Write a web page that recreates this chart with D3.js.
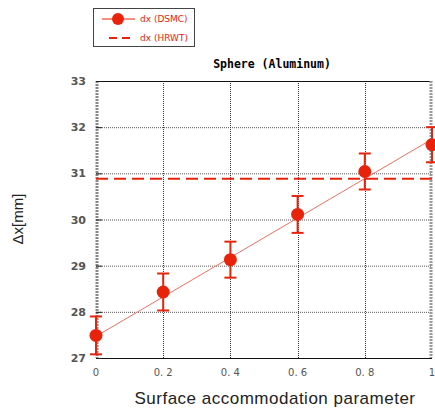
<!DOCTYPE html>
<html>
<head>
<meta charset="utf-8">
<script src="https://cdn.jsdelivr.net/npm/d3@7"></script>
<style>
  body { margin: 0; background: #fff; }
  svg { display: block; }
</style>
</head>
<body>
<div id="chart"></div>
<script>
// valeurs
const xValues = [0, 0.2, 0.4, 0.6, 0.8, 1.0];
const dsmcValues = [27.49, 28.43, 29.13, 30.11, 31.04, 31.62];
const dsmcErrors = [0.41, 0.4, 0.39, 0.4, 0.39, 0.38];
const hrwtValue = 30.88;
const fitLine = [[0, 27.47], [1, 31.74]];
const xTicks = [0, 0.2, 0.4, 0.6, 0.8, 1];
const xTickLabels = ["0", "0. 2", "0. 4", "0. 6", "0. 8", "1"];
const yTicks = [27, 28, 29, 30, 31, 32, 33];

const width = 435,
  height = 408;
const margin = { top: 81, right: 3, bottom: 50, left: 96 };
const red = "#e8230c";

const svg = d3
  .select("#chart")
  .append("svg")
  .attr("width", width)
  .attr("height", height);

const x = d3.scaleLinear().domain([0, 1]).range([margin.left, width - margin.right]);
const y = d3.scaleLinear().domain([27, 33]).range([height - margin.bottom, margin.top]);

// grille pointillée
svg
  .append("g")
  .selectAll("line")
  .data(yTicks.slice(1, -1))
  .join("line")
  .attr("x1", x(0))
  .attr("x2", x(1))
  .attr("y1", (d) => y(d) + 0.5)
  .attr("y2", (d) => y(d) + 0.5)
  .attr("stroke", "#555")
  .attr("stroke-dasharray", "1,1");

svg
  .append("g")
  .selectAll("line")
  .data(xTicks.slice(1, -1))
  .join("line")
  .attr("x1", (d) => Math.round(x(d)) + 0.5)
  .attr("x2", (d) => Math.round(x(d)) + 0.5)
  .attr("y1", y(33))
  .attr("y2", y(27))
  .attr("stroke", "#333")
  .attr("stroke-dasharray", "1,1");

// cadre
svg
  .append("line")
  .attr("x1", x(0))
  .attr("x2", x(1))
  .attr("y1", y(33) + 0.5)
  .attr("y2", y(33) + 0.5)
  .attr("stroke", "#111");
svg
  .append("line")
  .attr("x1", x(0))
  .attr("x2", x(1))
  .attr("y1", y(27) + 0.5)
  .attr("y2", y(27) + 0.5)
  .attr("stroke", "#111");
svg
  .append("line")
  .attr("x1", x(0) + 1)
  .attr("x2", x(0) + 1)
  .attr("y1", y(33))
  .attr("y2", y(27))
  .attr("stroke", "#888")
  .attr("stroke-width", 3)
  .attr("stroke-dasharray", "2,1");
svg
  .append("line")
  .attr("x1", x(1) - 1)
  .attr("x2", x(1) - 1)
  .attr("y1", y(33))
  .attr("y2", y(27))
  .attr("stroke", "#999")
  .attr("stroke-width", 3)
  .attr("stroke-dasharray", "2,1");

// petites graduations
svg
  .append("g")
  .selectAll("line")
  .data(yTicks)
  .join("line")
  .attr("x1", x(0))
  .attr("x2", x(0) + 6)
  .attr("y1", (d) => y(d) + 0.5)
  .attr("y2", (d) => y(d) + 0.5)
  .attr("stroke", "#222");

// labels des axes
svg
  .append("g")
  .style("font-family", "'DejaVu Sans', sans-serif")
  .style("font-size", "11px")
  .style("font-weight", "bold")
  .attr("fill", "#555")
  .selectAll("text")
  .data(yTicks)
  .join("text")
  .attr("x", x(0) - 10)
  .attr("y", (d) => y(d) + 4)
  .attr("text-anchor", "end")
  .text((d) => d);

svg
  .append("g")
  .style("font-family", "'DejaVu Sans', sans-serif")
  .style("font-size", "10px")
  .attr("fill", "#555")
  .selectAll("text")
  .data(xTicks)
  .join("text")
  .attr("x", (d) => x(d))
  .attr("y", y(27) + 18)
  .attr("text-anchor", "middle")
  .text((d, i) => xTickLabels[i]);

// ligne HRWT
svg
  .append("line")
  .attr("x1", x(0))
  .attr("x2", x(1))
  .attr("y1", y(hrwtValue))
  .attr("y2", y(hrwtValue))
  .attr("stroke", red)
  .attr("stroke-width", 2)
  .attr("stroke-dasharray", "12,6");

// droite de régression
svg
  .append("path")
  .datum(fitLine)
  .attr("fill", "none")
  .attr("stroke", "#f07060")
  .attr("stroke-width", 1)
  .attr("d", d3.line().x((d) => x(d[0])).y((d) => y(d[1])));

// barres d'erreur
const points = xValues.map((v, i) => ({ x: v, y: dsmcValues[i], e: dsmcErrors[i] }));

const errs = svg.append("g").attr("stroke", red).attr("stroke-width", 2);
errs
  .selectAll(".v")
  .data(points)
  .join("line")
  .attr("x1", (d) => x(d.x))
  .attr("x2", (d) => x(d.x))
  .attr("y1", (d) => y(d.y - d.e))
  .attr("y2", (d) => y(d.y + d.e));
errs
  .selectAll(".top")
  .data(points)
  .join("line")
  .attr("x1", (d) => x(d.x) - 6)
  .attr("x2", (d) => x(d.x) + 6)
  .attr("y1", (d) => y(d.y + d.e))
  .attr("y2", (d) => y(d.y + d.e));
errs
  .selectAll(".bot")
  .data(points)
  .join("line")
  .attr("x1", (d) => x(d.x) - 6)
  .attr("x2", (d) => x(d.x) + 6)
  .attr("y1", (d) => y(d.y - d.e))
  .attr("y2", (d) => y(d.y - d.e));

svg
  .append("g")
  .selectAll("circle")
  .data(points)
  .join("circle")
  .attr("cx", (d) => x(d.x))
  .attr("cy", (d) => y(d.y))
  .attr("r", 6.5)
  .attr("fill", red);

// titre
svg
  .append("text")
  .attr("x", 272)
  .attr("y", 68)
  .attr("text-anchor", "middle")
  .style("font-family", "'DejaVu Sans Mono', monospace")
  .style("font-size", "11.5px")
  .style("font-weight", "bold")
  .text("Sphere (Aluminum)");

svg
  .append("text")
  .attr("x", 275)
  .attr("y", 404)
  .attr("text-anchor", "middle")
  .style("font-family", "'Liberation Sans', Arial, sans-serif")
  .style("font-size", "17px")
  .style("letter-spacing", "0.5px")
  .attr("fill", "#222")
  .text("Surface accommodation parameter");

svg
  .append("text")
  .attr("transform", `translate(23, 219) rotate(-90)`)
  .attr("text-anchor", "middle")
  .style("font-family", "'Liberation Sans', Arial, sans-serif")
  .style("font-size", "15px")
  .attr("fill", "#222")
  .text("Δx[mm]");

// légende
const legend = svg.append("g");
legend
  .append("rect")
  .attr("x", 93.5)
  .attr("y", 8.5)
  .attr("width", 101)
  .attr("height", 38)
  .attr("fill", "#fff")
  .attr("stroke", "#444");
legend
  .append("line")
  .attr("x1", 102)
  .attr("x2", 135)
  .attr("y1", 19)
  .attr("y2", 19)
  .attr("stroke", red);
legend
  .append("circle")
  .attr("cx", 118)
  .attr("cy", 19)
  .attr("r", 6)
  .attr("fill", red);
legend
  .append("line")
  .attr("x1", 109)
  .attr("x2", 135)
  .attr("y1", 38)
  .attr("y2", 38)
  .attr("stroke", red)
  .attr("stroke-width", 2)
  .attr("stroke-dasharray", "8,5");
legend
  .selectAll("text")
  .data(["dx (DSMC)", "dx (HRWT)"])
  .join("text")
  .attr("x", 140)
  .attr("y", (d, i) => 22 + i * 19)
  .style("font-family", "'DejaVu Sans', sans-serif")
  .style("font-size", "9px")
  .attr("fill", red)
  .text((d) => d);
</script>
</body>
</html>
